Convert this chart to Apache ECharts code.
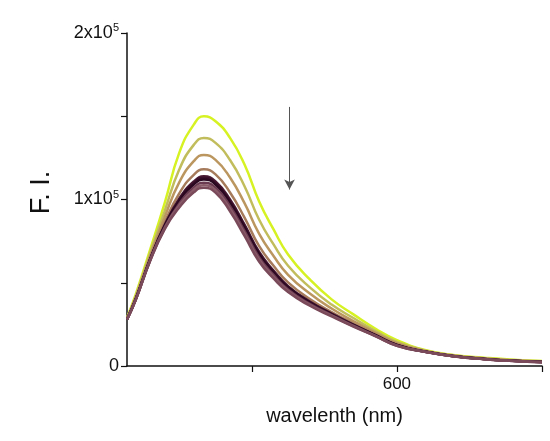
<!DOCTYPE html>
<html>
<head>
<meta charset="utf-8">
<script src="https://cdn.jsdelivr.net/npm/echarts@6/dist/echarts.min.js"></script>
<style>html,body{margin:0;padding:0;background:#fff;}#c{width:550px;height:441px;}</style>
</head>
<body>
<div id="c"></div>
<script>
// wavelengths (nm)
var wavelengths = [414,420,430,440,450,460,467,475,485,495,505,515,525,540,555,570,585,600,620,640,660,680,700];
// F.I. values in units of 1e5
var s1 = [0.29,0.43,0.70,0.98,1.28,1.45,1.50,1.47,1.37,1.21,0.99,0.82,0.67,0.52,0.40,0.31,0.225,0.155,0.095,0.065,0.05,0.038,0.030];
var s2 = [0.287,0.42,0.68,0.932,1.18,1.328,1.37,1.34,1.237,1.08,0.88,0.73,0.602,0.472,0.369,0.288,0.211,0.145,0.092,0.063,0.047,0.036,0.028];
var s3 = [0.284,0.412,0.663,0.895,1.103,1.23,1.268,1.238,1.132,0.978,0.795,0.661,0.548,0.435,0.345,0.270,0.201,0.137,0.089,0.061,0.045,0.034,0.026];
var s4 = [0.282,0.405,0.65,0.862,1.036,1.148,1.181,1.151,1.042,0.891,0.721,0.602,0.502,0.402,0.324,0.255,0.191,0.13,0.087,0.059,0.043,0.032,0.025];
var s5 = [0.28,0.402,0.643,0.847,1.005,1.108,1.139,1.109,1.0,0.849,0.686,0.573,0.48,0.387,0.315,0.248,0.187,0.127,0.086,0.058,0.042,0.031,0.024];
var s6 = [0.279,0.401,0.641,0.843,0.998,1.1,1.13,1.1,0.99,0.84,0.678,0.566,0.475,0.384,0.312,0.247,0.186,0.126,0.085,0.058,0.042,0.031,0.024];
var s7 = [0.28,0.40,0.64,0.84,0.99,1.09,1.12,1.09,0.98,0.83,0.67,0.56,0.47,0.38,0.31,0.245,0.185,0.125,0.085,0.058,0.042,0.031,0.024];
var s8 = [0.28,0.398,0.637,0.833,0.975,1.072,1.10,1.071,0.96,0.811,0.654,0.547,0.46,0.373,0.306,0.242,0.183,0.124,0.084,0.058,0.042,0.031,0.024];
var s9 = [0.279,0.397,0.635,0.827,0.964,1.058,1.086,1.056,0.945,0.796,0.641,0.537,0.452,0.367,0.302,0.239,0.181,0.122,0.084,0.057,0.041,0.030,0.023];
var s10 = [0.279,0.396,0.632,0.822,0.952,1.043,1.071,1.041,0.929,0.781,0.628,0.526,0.444,0.362,0.298,0.237,0.18,0.121,0.084,0.057,0.041,0.030,0.023];
var seriesValues = [s1,s2,s3,s4,s5,s6,s7,s8,s9,s10];
var seriesColors = ['#d6f222','#c2bd5c','#bb975f','#a67b5c','#4c1d36','#3a0f2a','#2a0820','#6a3a50','#8a5c6a','#7a4a5a'];
var xTickValues = [500,600,700];
var xLabelValues = [600];
var arrowX = 526;
var arrowY = [1.556, 1.06];

var series = seriesValues.map(function(vals, i){
  return {
    type:'line', smooth:true, symbol:'none', animation:false,
    data: wavelengths.map(function(w,j){return [w, vals[j]];}),
    lineStyle:{color:seriesColors[i], width:2.5},
    itemStyle:{color:seriesColors[i]},
    z: 2 + i
  };
});
series[series.length-1].markLine = {
  silent:true, animation:false,
  symbol:['none','arrow'], symbolSize:[8,10],
  label:{show:false},
  lineStyle:{color:'#555', width:1, type:'solid'},
  data:[[{coord:[arrowX, arrowY[0]]},{coord:[arrowX, arrowY[1]]}]]
};

var chart = echarts.init(document.getElementById('c'), null, {renderer:'canvas'});
chart.setOption({
  backgroundColor:'#ffffff',
  animation:false,
  grid:{left:127, right:8, top:33, bottom:75, containLabel:false},
  xAxis:{
    type:'value', min:414, max:700,
    name:'wavelenth (nm)', nameLocation:'middle', nameGap:40,
    nameTextStyle:{fontFamily:'Liberation Sans', fontSize:20, color:'#111'},
    axisLine:{lineStyle:{color:'#111', width:1.5}},
    axisTick:{show:true, inside:false, length:6, customValues:xTickValues, lineStyle:{color:'#111', width:1.2}},
    axisLabel:{customValues:xLabelValues, fontFamily:'Liberation Sans', fontSize:17, color:'#111', margin:10},
    splitLine:{show:false}
  },
  yAxis:{
    type:'value', min:0, max:2, interval:0.5,
    name:'F. I.', nameLocation:'middle', nameGap:72, nameRotate:90,
    nameTextStyle:{fontFamily:'Liberation Sans', fontSize:27, color:'#111', padding:[0,0,0,14]},
    axisLine:{show:true, lineStyle:{color:'#111', width:1.5}},
    axisTick:{show:true, inside:false, length:6, lineStyle:{color:'#111', width:1.2}},
    axisLabel:{
      fontFamily:'Liberation Sans', fontSize:18, color:'#111', margin:8,
      formatter:function(v){
        if (v===0) return '0';
        if (v===1) return '{b|1x10}{s|5}';
        if (v===2) return '{b|2x10}{s|5}';
        return '';
      },
      rich:{
        b:{fontFamily:'Liberation Sans', fontSize:18, color:'#111'},
        s:{fontFamily:'Liberation Sans', fontSize:11, color:'#111', padding:[0,0,10,0]}
      }
    },
    splitLine:{show:false}
  },
  series: series
});
</script>
</body>
</html>
